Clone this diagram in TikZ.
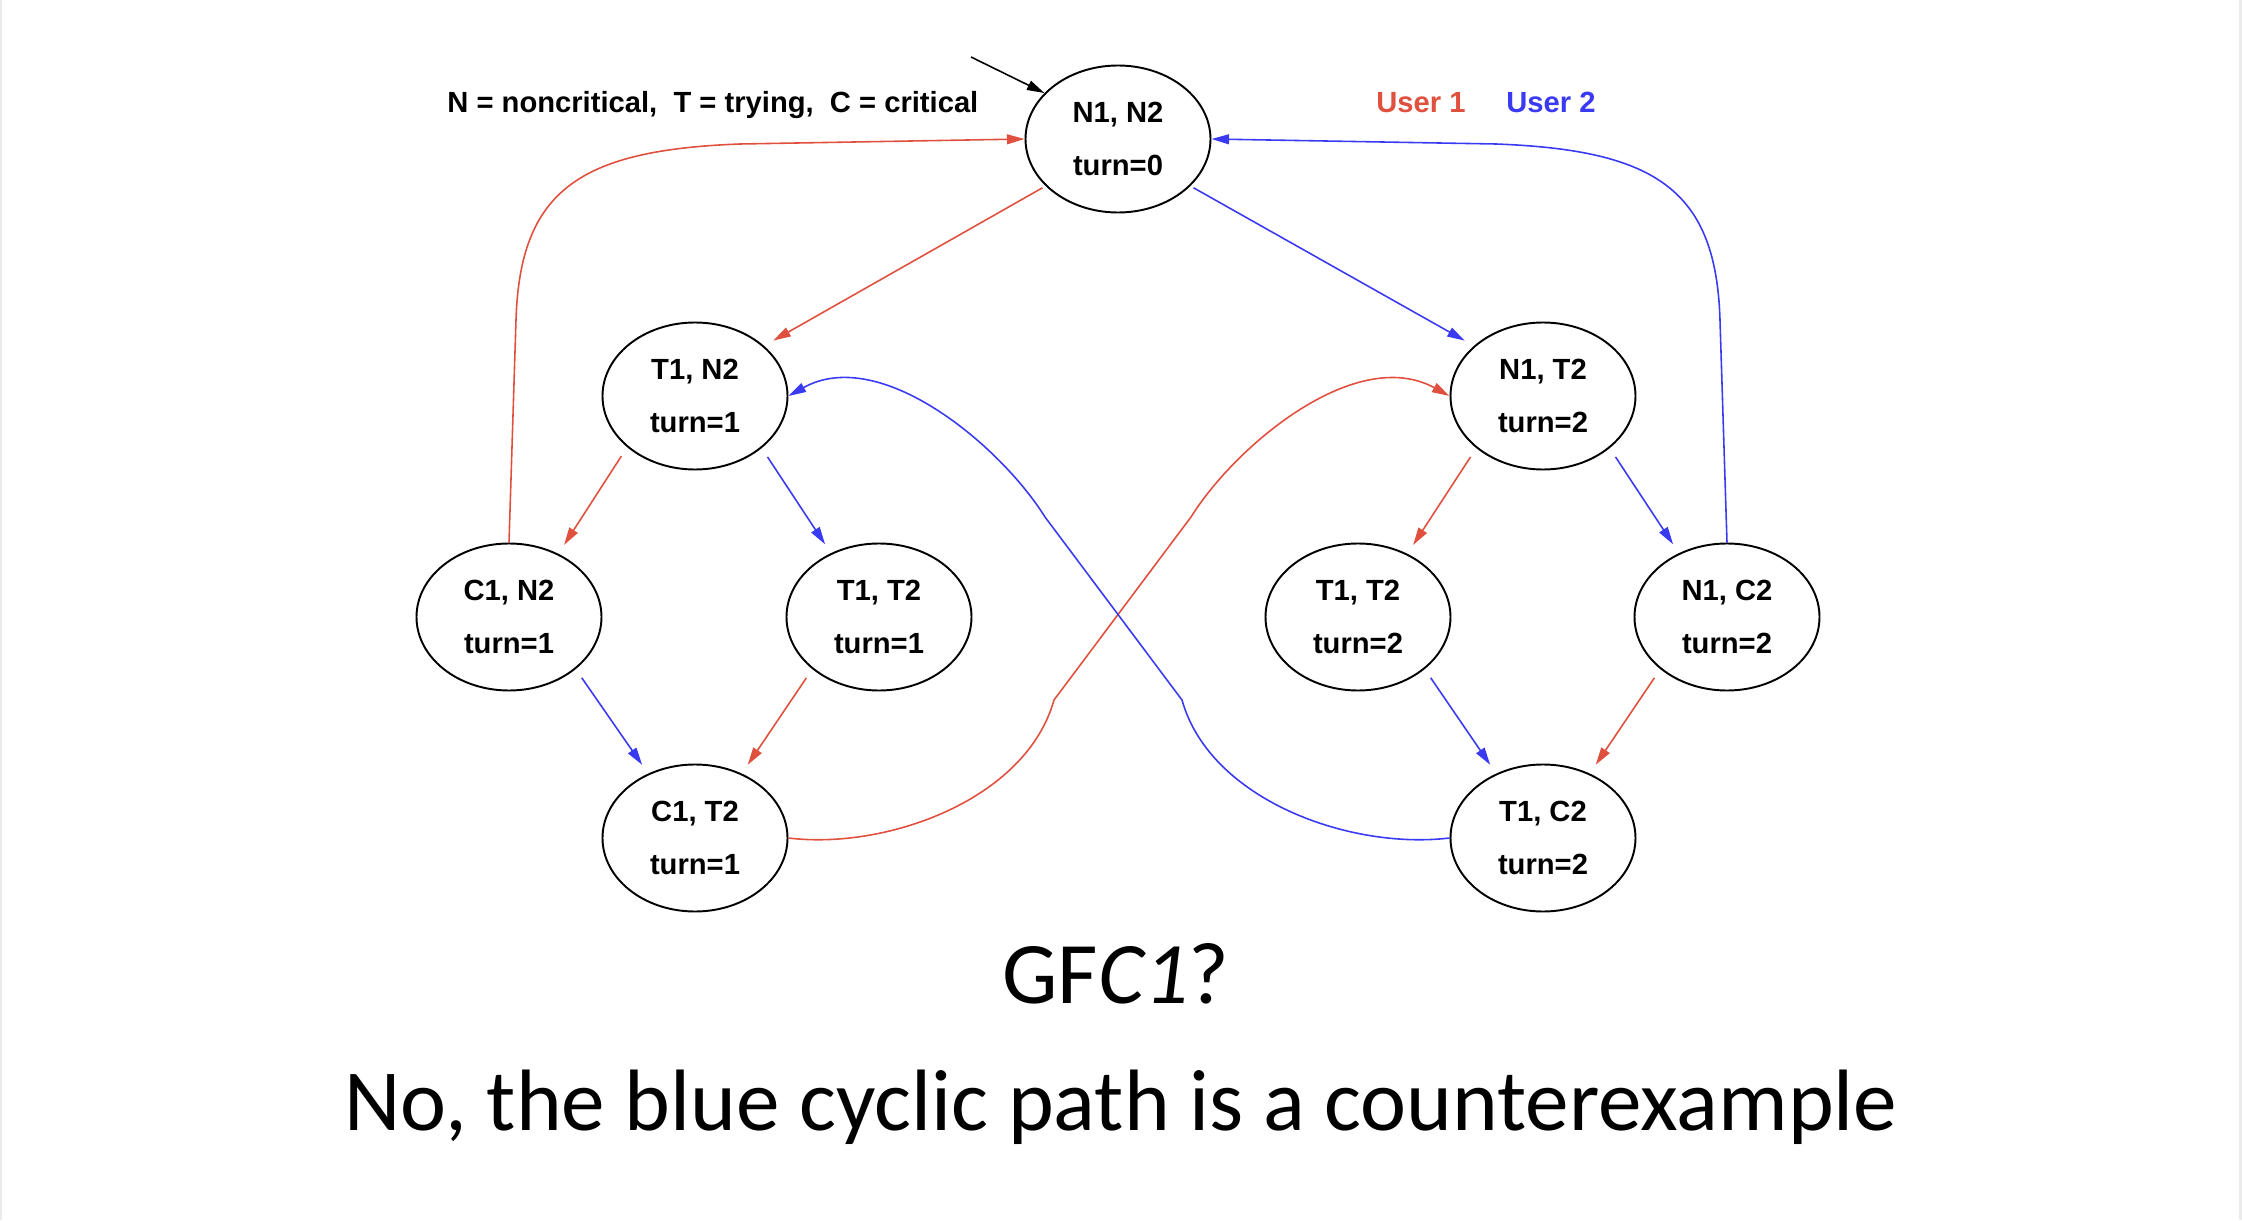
\documentclass[tikz,border=0pt]{standalone}
\usepackage{fontspec}
\usetikzlibrary{arrows.meta,shapes.geometric}
\newfontfamily\labelfont{Liberation Sans}
\newfontfamily\slidefont{Carlito}
\definecolor{userone}{RGB}{224,80,62}
\definecolor{usertwo}{RGB}{58,58,242}

\begin{document}
\begin{tikzpicture}[
    state/.style={draw, ellipse, line width=0.55pt, minimum width=1.85cm, minimum height=1.47cm,
      inner sep=0pt, align=center, font=\labelfont\bfseries\fontsize{8.3}{15}\selectfont},
    small/.style={font=\labelfont\bfseries\fontsize{8.3}{10}\selectfont},
    move/.style={line width=0.45pt, -{Triangle[length=5pt,width=2.8pt]}},
    gap/.style={shorten <=3pt, shorten >=3pt},
    oneedge/.style={move, userone},
    twoedge/.style={move, usertwo}
  ]
  \useasboundingbox (0,0) rectangle (22.42,12.2);
  \fill[black!8] (0,0) rectangle (0.025,12.2);
  \fill[black!8] (22.39,0) rectangle (22.42,12.2);

  % states
  \node[state] (n1n2) at (11.18,10.81) {N1, N2\\turn=0};
  \node[state] (t1n2) at (6.95,8.24) {T1, N2\\turn=1};
  \node[state] (n1t2) at (15.43,8.24) {N1, T2\\turn=2};
  \node[state] (c1n2) at (5.09,6.03) {C1, N2\\turn=1};
  \node[state] (t1t2l) at (8.79,6.03) {T1, T2\\turn=1};
  \node[state] (t1t2r) at (13.58,6.03) {T1, T2\\turn=2};
  \node[state] (n1c2) at (17.27,6.03) {N1, C2\\turn=2};
  \node[state] (c1t2) at (6.95,3.82) {C1, T2\\turn=1};
  \node[state] (t1c2) at (15.43,3.82) {T1, C2\\turn=2};

  % legend
  \node[small, anchor=base west] (legend) at (4.35,11.07) {N = noncritical,\ \ T = trying,\ \ C = critical};
  \node[small, anchor=base west, userone] (user1) at (13.64,11.07) {User 1};
  \node[small, anchor=base west, usertwo] (user2) at (14.94,11.07) {User 2};

  % initial state
  \coordinate (init) at (9.71,11.63);
  \draw[move] (init) -- (n1n2.148);

  % user 1 moves
  \draw[oneedge, gap, shorten <=1pt] (n1n2.213) -- (t1n2.36);
  \draw[oneedge, gap] (t1n2.217) -- (c1n2.52);
  \draw[oneedge, gap] (n1t2.218) -- (t1t2r.52);
  \draw[oneedge, gap] (t1t2l.218) -- (c1t2.54);
  \draw[oneedge, gap] (n1c2.218) -- (t1c2.54);
  \draw[oneedge] (c1n2.north) -- (5.16,9.0) .. controls (5.2,10.3) and (5.8,10.7) .. (7.4,10.76) -- (n1n2.west);
  \draw[oneedge] (c1t2.east) .. controls (8.86,3.7) and (10.26,4.2) .. (10.54,5.2) -- (11.91,7.03)
    .. controls (12.36,7.75) and (13.56,8.75) .. (n1t2.west);

  % user 2 moves
  \draw[twoedge, gap, shorten <=1pt] (n1n2.327) -- (n1t2.144);
  \draw[twoedge, gap] (t1n2.322) -- (t1t2l.127);
  \draw[twoedge, gap] (n1t2.322) -- (n1c2.127);
  \draw[twoedge, gap] (c1n2.322) -- (c1t2.126);
  \draw[twoedge, gap] (t1t2r.322) -- (t1c2.126);
  \draw[twoedge] (n1c2.north) -- (17.2,9.0) .. controls (17.16,10.3) and (16.56,10.7) .. (14.96,10.76) -- (n1n2.east);
  \draw[twoedge] (t1c2.west) .. controls (13.5,3.7) and (12.1,4.2) .. (11.82,5.2) -- (10.45,7.03)
    .. controls (10.0,7.75) and (8.8,8.75) .. (t1n2.east);

  % question
  \node[anchor=base, font=\slidefont\fontsize{25}{28}\selectfont] (query) at (11.16,2.17) {GF\textit{C1}?};
  \node[anchor=base, font=\slidefont\fontsize{24.8}{28}\selectfont] (answer) at (11.21,0.90) {No, the blue cyclic path is a counterexample};
\end{tikzpicture}
\end{document}
